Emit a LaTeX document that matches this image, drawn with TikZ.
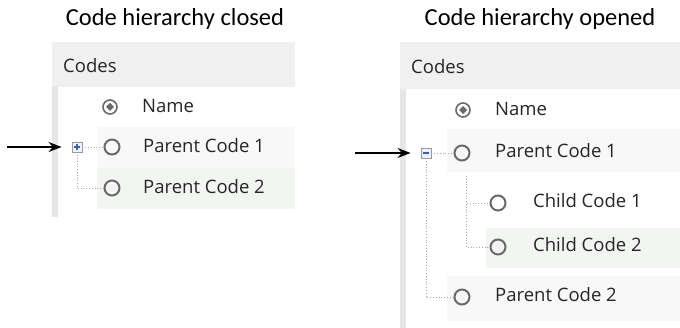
\documentclass[tikz,border=0pt]{standalone}
\usepackage{fontspec}
\setmainfont{Carlito}
\newfontfamily\uifont{Open Sans}
\usetikzlibrary{arrows.meta}
\definecolor{hdrgray}{HTML}{F0F0F0}
\definecolor{stripgray}{HTML}{E6E6E6}
\definecolor{rowA}{HTML}{F7F8F7}
\definecolor{rowB}{HTML}{F3F5F3}
\definecolor{ringgray}{HTML}{6A6A6A}
\definecolor{treegray}{HTML}{A8A8A8}
\definecolor{boxblue}{HTML}{3A5FB0}
\tikzset{
  title/.style={font=\fontsize{24.5}{28}\selectfont, inner sep=0pt},
  ui/.style={font=\uifont\fontsize{18.5}{21}\selectfont, inner sep=0pt, anchor=west, text=black!85},
  radio/.style={circle, draw=ringgray, line width=2pt, minimum size=15pt, inner sep=0pt},
  keyradio/.style={circle, draw=ringgray, line width=1.6pt, minimum size=14pt, inner sep=0pt},
  expbox/.style={rectangle, draw=gray!80, fill=blue!6, line width=0.8pt, minimum size=10pt, inner sep=0pt},
  tree/.style={draw=treegray, dotted, line width=0.8pt},
  pointer/.style={draw=black, line width=1.8pt, shorten >=10pt, -{Stealth[length=13pt,width=10pt]}},
}
\begin{document}
\begin{tikzpicture}[x=1pt,y=-1pt]
\useasboundingbox (0,0) rectangle (680,328);
\fill[white] (0,0) rectangle (680,328);

% ---------- left panel ----------
\node[title] (t1) at (175,19) {Code hierarchy closed};
\fill[hdrgray] (52,42) rectangle (295,87);
\fill[stripgray] (52,87) rectangle (58,217);
\fill[rowA] (97,127) rectangle (295,168);
\fill[rowB] (97,168) rectangle (295,209);
\node[ui] (h1) at (63,66) {Codes};

\node[keyradio] (k1) at (110,107) {};
\fill[ringgray] (110,103) -- (114,107) -- (110,111) -- (106,107) -- cycle;
\node[ui] (n1) at (142,106) {Name};

\node[radio] (p11) at (112,147) {};
\node[ui] (p11t) at (143,146) {Parent Code 1};
\node[radio] (p12) at (112,188) {};
\node[ui] (p12t) at (143,187) {Parent Code 2};

\node[expbox] (b1) at (77,147) {};
\draw[boxblue, line width=1.1pt] (74,147) -- (80,147) (77,144) -- (77,150);
\draw[tree] (b1.east) -- (p11.west);
\draw[tree] (b1.south) |- (p12.west);

\coordinate (a1s) at (7,147);
\draw[pointer] (a1s) -- (b1.west);

% ---------- right panel ----------
\node[title] (t2) at (540,19) {Code hierarchy opened};
\fill[hdrgray] (400,42) rectangle (680,89);
\fill[stripgray] (400,89) rectangle (406,328);
\fill[rowA] (447,129) rectangle (680,172);
\fill[rowB] (486,228) rectangle (680,268);
\fill[rowA] (447,276) rectangle (680,321);
\node[ui] (h2) at (411,67) {Codes};

\node[keyradio] (k2) at (463,110) {};
\fill[ringgray] (463,106) -- (467,110) -- (463,114) -- (459,110) -- cycle;
\node[ui] (n2) at (495,109) {Name};

\node[radio] (p21) at (462,153) {};
\node[ui] (p21t) at (495,151) {Parent Code 1};
\node[radio] (c21) at (498,203) {};
\node[ui] (c21t) at (533,201) {Child Code 1};
\node[radio] (c22) at (498,247) {};
\node[ui] (c22t) at (533,245) {Child Code 2};
\node[radio] (p22) at (462,297) {};
\node[ui] (p22t) at (495,295) {Parent Code 2};

\node[expbox] (b2) at (426,153) {};
\draw[boxblue, line width=1.1pt] (423,153) -- (429,153);
\draw[tree] (b2.east) -- (p21.west);
\draw[tree] (b2.south) |- (p22.west);
\coordinate (ct) at (466,176);
\draw[tree] (ct) |- (c21.west);
\draw[tree] (ct) |- (c22.west);

\coordinate (a2s) at (355,153);
\draw[pointer] (a2s) -- (b2.west);
\end{tikzpicture}
\end{document}
